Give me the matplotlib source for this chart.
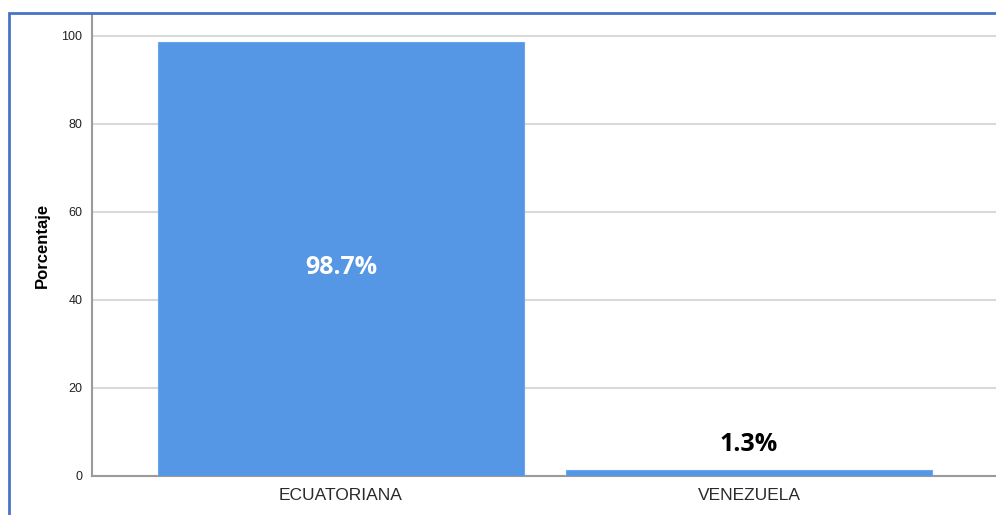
import matplotlib
matplotlib.use("Agg")
import matplotlib.pyplot as plt
from matplotlib.patches import Rectangle

categories = ["ECUATORIANA", "VENEZUELA"]
percentages = [98.7, 1.3]
y_ticks = [0, 20, 40, 60, 80, 100]

bar_color = "#5596e5"
grid_color = "#d9d9d9"
spine_color = "#9a9a9a"
border_color = "#4674c6"

plt.rcParams["font.family"] = ["Liberation Sans", "DejaVu Sans"]

fig = plt.figure(figsize=(9.96, 5.15), dpi=100)
ax = fig.add_axes([92 / 996, 1 - 476 / 515, 1 - 92 / 996, (476 - 14) / 515])

# outer frame of the exported chart (right/bottom edges cropped)
fig.patches.append(Rectangle((8.5 / 996, -0.2), 2, 1 - 13 / 515 + 0.2,
                             transform=fig.transFigure, fill=False,
                             edgecolor=border_color, linewidth=2, zorder=10))

x = list(range(len(categories)))
ax.bar(x, percentages, width=0.897, color=bar_color, edgecolor="#6aa6ec",
       linewidth=0.8, zorder=3)

ax.set_xlim(-0.61, 1.605)
ax.set_ylim(0, (476 - 14) / 4.4)
ax.set_yticks(y_ticks)
ax.set_xticks(x)
ax.set_xticklabels(categories, fontsize=12.5, color="#2a2a2a")
ax.tick_params(axis="y", length=0, labelsize=9, pad=7, colors="#222222")
ax.tick_params(axis="x", length=0, pad=9)
ax.yaxis.grid(True, color=grid_color, linewidth=1.5, zorder=0)
ax.set_axisbelow(True)

for side in ["top", "right"]:
    ax.spines[side].set_visible(False)
for side in ["left", "bottom"]:
    ax.spines[side].set_color(spine_color)
    ax.spines[side].set_linewidth(1.5)

ax.set_ylabel("Porcentaje", fontsize=12, fontweight="bold", labelpad=8)

for xi, v in zip(x, percentages):
    if v > 10:
        ax.text(xi, v / 2 - 2, f"{v}%", ha="center", va="center", color="white",
                fontsize=18, fontweight="bold", family=["Open Sans", "DejaVu Sans"], zorder=4)
    else:
        ax.text(xi, v + 3, f"{v}%", ha="center", va="bottom", color="black",
                fontsize=18, fontweight="bold", family=["Open Sans", "DejaVu Sans"], zorder=4)

fig.savefig("out.png", dpi=100)
